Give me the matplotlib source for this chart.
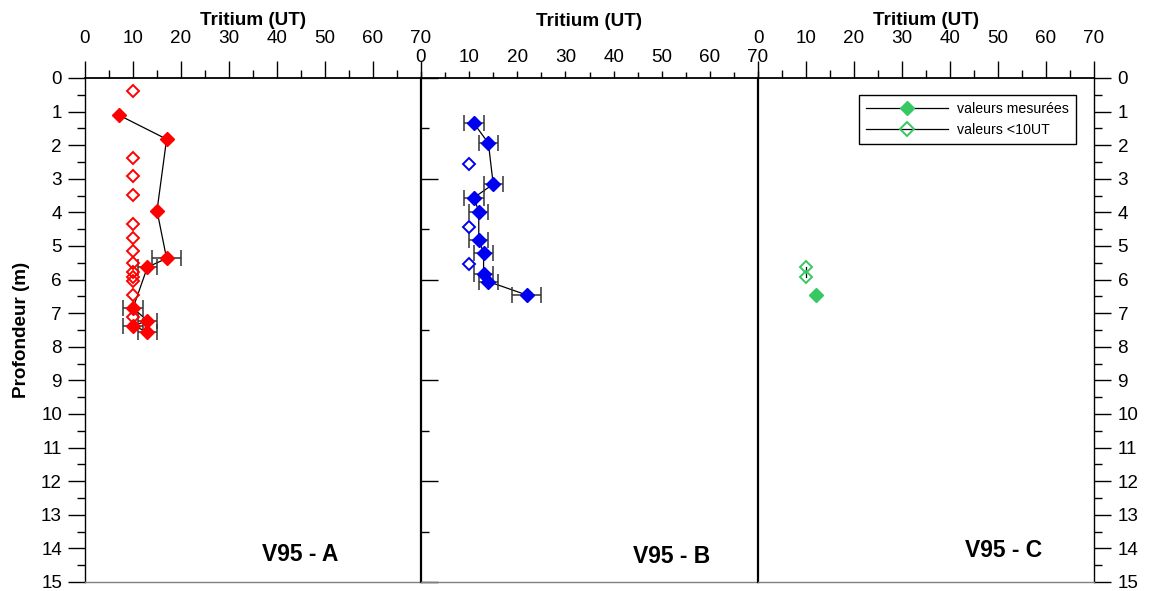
import numpy as np
import matplotlib
matplotlib.use('Agg')
import matplotlib.pyplot as plt
from matplotlib.lines import Line2D
from matplotlib.ticker import MultipleLocator

plt.rcParams['font.family'] = ['Liberation Sans', 'DejaVu Sans']

# V95 - A (mesures)
a_depth = [1.1, 1.82, 3.95, 5.37, 5.63, 6.85, 7.22, 7.38, 7.55]
a_trit = [7, 17, 15, 17, 13, 10, 13, 10, 13]
a_err = [0, 0, 0, 3, 2, 2, 2, 2, 2]
# V95 - A (<10 UT)
a_low_depth = [0.4, 2.39, 2.92, 3.48, 4.35, 4.75, 5.15, 5.5, 5.76, 5.91, 6.03, 6.46, 7.1]
a_low_trit = [10, 10, 10, 10, 10, 10, 10, 10, 10, 10, 10, 10, 10]

# V95 - B
b_depth = [1.35, 1.94, 3.16, 3.56, 3.98, 4.82, 5.22, 5.83, 6.06, 6.46]
b_trit = [11, 14, 15, 11, 12, 12, 13, 13, 14, 22]
b_err = [2, 2, 2, 2, 2, 2, 2, 2, 2, 3]
b_low_depth = [2.57, 4.42, 5.54]
b_low_trit = [10, 10, 10]

# V95 - C
c_depth = [6.46]
c_trit = [12]
c_err = [0]
c_low_depth = [5.63, 5.93]
c_low_trit = [10, 10]

RED = '#FF0000'
BLUE = '#0000F0'
GREEN = '#35C863'
FS = 13.6

W, H = 1151, 591
fig = plt.figure(figsize=(W / 100, H / 100), dpi=100)


def box(x0, x1, y0=78, y1=582):
    return [x0 / W, 1 - y1 / H, (x1 - x0) / W, (y1 - y0) / H]


ax_a = fig.add_axes(box(85, 421))
ax_b = fig.add_axes(box(421, 758))
ax_c = fig.add_axes(box(758, 1094))


def draw(ax, depth, val, err, low_depth, low_val, color, link_low=False):
    depth = np.array(depth)
    val = np.array(val)
    err = np.array(err)
    ax.plot(val, depth, color='black', lw=0.9, zorder=2)
    m = err > 0
    if m.any():
        ax.errorbar(val[m], depth[m], xerr=err[m], fmt='none', ecolor='#333333',
                    elinewidth=1.1, capsize=6, capthick=1.1, zorder=3)
    ax.plot(val, depth, 'D', color=color, ms=7, ls='none', zorder=4)
    if link_low:
        ax.plot(low_val, low_depth, color='black', lw=0.9, zorder=2)
    ax.plot(low_val, low_depth, 'D', mfc='none', mec=color, mew=1.4, ms=6.3,
            ls='none', zorder=4)


draw(ax_a, a_depth, a_trit, a_err, a_low_depth, a_low_trit, RED)
draw(ax_b, b_depth, b_trit, b_err, b_low_depth, b_low_trit, BLUE)
draw(ax_c, c_depth, c_trit, c_err, c_low_depth, c_low_trit, GREEN, link_low=True)

for ax in (ax_a, ax_b, ax_c):
    ax.set_xlim(0, 70)
    ax.set_ylim(15, 0)
    ax.xaxis.set_major_locator(MultipleLocator(10))
    ax.xaxis.set_minor_locator(MultipleLocator(5))
    ax.xaxis.tick_top()
    ax.xaxis.set_label_position('top')
    ax.spines['bottom'].set_color('#808080')
    ax.spines['bottom'].set_linewidth(1.0)
    ax.spines['top'].set_linewidth(1.3)
    ax.spines['right'].set_visible(False)
    ax.tick_params(axis='x', which='both', direction='out', labelsize=FS, width=1)
    ax.tick_params(axis='y', which='both', labelsize=FS, width=1)

# long top ticks for A and C, short ones for B
for ax in (ax_a, ax_c):
    ax.tick_params(axis='x', which='major', length=12, pad=10)
    ax.tick_params(axis='x', which='minor', length=6)
    ax.set_xlabel('Tritium (UT)', fontsize=FS, fontweight='bold', labelpad=4)
ax_b.tick_params(axis='x', which='major', length=5, pad=4)
ax_b.tick_params(axis='x', which='minor', length=4)
ax_b.set_xlabel('Tritium (UT)', fontsize=FS, fontweight='bold', labelpad=16)

# left axis of A
ax_a.yaxis.set_major_locator(MultipleLocator(1))
ax_a.yaxis.set_minor_locator(MultipleLocator(0.5))
ax_a.tick_params(axis='y', which='major', direction='out', length=12, pad=4.5)
ax_a.tick_params(axis='y', which='minor', direction='out', length=6)
ax_a.spines['left'].set_linewidth(1.0)
ax_a.set_ylabel('Profondeur (m)', fontsize=FS, fontweight='bold', labelpad=8)

# inner divider with inward ticks for B
ax_b.yaxis.set_major_locator(MultipleLocator(3))
ax_b.yaxis.set_minor_locator(MultipleLocator(1.5))
ax_b.tick_params(axis='y', which='major', direction='in', length=12, labelleft=False)
ax_b.tick_params(axis='y', which='minor', direction='in', length=6)
ax_b.spines['left'].set_linewidth(1.6)

# C: divider without ticks, right axis with labels
ax_c.spines['left'].set_linewidth(1.6)
ax_c.spines['right'].set_visible(True)
ax_c.spines['right'].set_linewidth(1.0)
ax_c.yaxis.tick_right()
ax_c.yaxis.set_major_locator(MultipleLocator(1))
ax_c.yaxis.set_minor_locator(MultipleLocator(0.5))
ax_c.tick_params(axis='y', which='major', direction='out', length=12, pad=5)
ax_c.tick_params(axis='y', which='minor', direction='out', length=6)

ax_a.text(0.64, 0.055, 'V95 - A', transform=ax_a.transAxes, fontsize=16.5,
          fontweight='bold', ha='center', va='center')
ax_b.text(0.745, 0.05, 'V95 - B', transform=ax_b.transAxes, fontsize=16.5,
          fontweight='bold', ha='center', va='center')
ax_c.text(0.73, 0.062, 'V95 - C', transform=ax_c.transAxes, fontsize=16.5,
          fontweight='bold', ha='center', va='center')

handles = [
    Line2D([], [], color='black', lw=0.9, marker='D', ms=7.5, mfc=GREEN, mec=GREEN),
    Line2D([], [], color='black', lw=0.9, marker='D', ms=6.8, mfc='none', mec=GREEN, mew=1.4),
]
leg = ax_c.legend(handles, ['valeurs mesurées', 'valeurs <10UT'], loc='upper right',
                  bbox_to_anchor=(0.967, 0.98), fontsize=10.2, handlelength=5.8,
                  fancybox=False, framealpha=1, edgecolor='black',
                  borderpad=0.5, labelspacing=0.45, handletextpad=0.6)
leg.get_frame().set_linewidth(1.0)

fig.savefig('out.png', dpi=100)
